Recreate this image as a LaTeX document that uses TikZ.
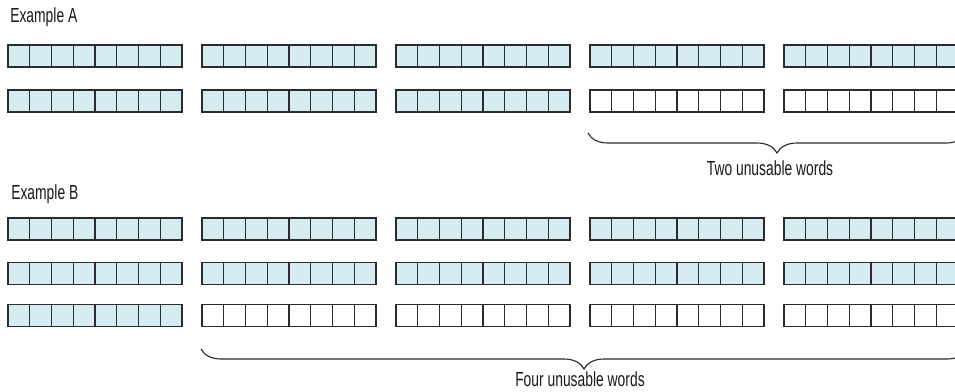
\documentclass[tikz,border=0pt]{standalone}
\usepackage{fontspec}
\setmainfont{Liberation Sans}[FakeStretch=0.68]
\usetikzlibrary{decorations.pathreplacing}
\definecolor{wordblue}{HTML}{D5ECF3}
\definecolor{wordline}{HTML}{2B2B2B}

\begin{document}
\begin{tikzpicture}[x=0.025cm, y=-0.025cm,
  cell/.style={draw=wordline, line width=1pt, fill=#1, minimum width=0.544cm,
    minimum height=0.55cm, inner sep=0pt, outer sep=0pt},
  cell/.default=wordblue,
  lbl/.style={font=\fontsize{14.5}{16}\selectfont, text=black!90, inner sep=0pt},
  brc/.style={decorate, decoration={brace, mirror, amplitude=0.5cm},
    line width=0.8pt, draw=wordline}
]
  \clip (0,0) rectangle (955,391);

  % Example A
  \node[lbl, anchor=base west] (exA) at (10,22.7) {Example A};
  \foreach \r/\y in {1/56, 2/101}
    \foreach \g in {1,...,5}
      \foreach \c in {1,...,8} {
        \def\wf{wordblue}
        \ifnum\r=2 \ifnum\g>3 \def\wf{white}\fi\fi
        \node[cell=\wf] (a-\r-\g-\c) at ({8+194*(\g-1)+21.75*(\c-0.5)}, \y) {};
      }

  % two words lost
  \coordinate (twoL) at (588,133);
  \coordinate (twoR) at (966,133);
  \draw[brc] (twoL) -- (twoR);
  \node[lbl, anchor=base] (two) at (770,175) {Two unusable words};

  % Example B
  \node[lbl, anchor=base west] (exB) at (11,199) {Example B};
  \foreach \r/\y in {1/229, 2/273.5, 3/315.5}
    \foreach \g in {1,...,5}
      \foreach \c in {1,...,8} {
        \def\wf{wordblue}
        \ifnum\r=3 \ifnum\g>1 \def\wf{white}\fi\fi
        \node[cell=\wf] (b-\r-\g-\c) at ({8+194*(\g-1)+21.75*(\c-0.5)}, \y) {};
      }

  % four words lost
  \coordinate (fourL) at (201,349);
  \coordinate (fourR) at (967,349);
  \draw[brc] (fourL) -- (fourR);
  \node[lbl, anchor=base] (four) at (580,386) {Four unusable words};
\end{tikzpicture}
\end{document}
